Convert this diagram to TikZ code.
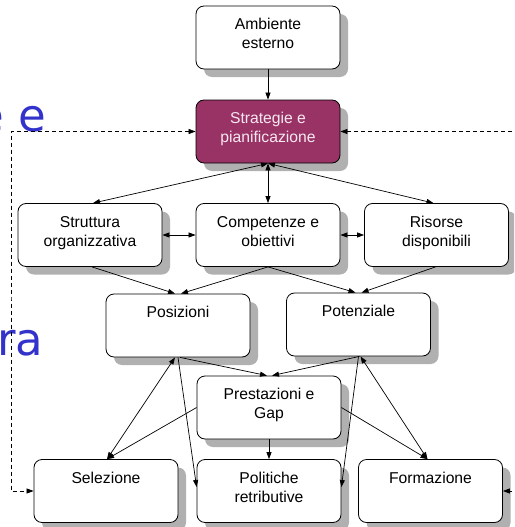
\documentclass[tikz,border=0pt]{standalone}
\usepackage{fontspec}
\setmainfont{Liberation Sans}
\newfontfamily\slidefont{DejaVu Sans}
\usetikzlibrary{arrows.meta,shadows}
\definecolor{plum}{RGB}{153,51,102}
\definecolor{plumtext}{RGB}{247,232,240}
\definecolor{slideblue}{RGB}{51,51,204}
\definecolor{shadowgray}{RGB}{176,176,176}
% box caption: first baseline fixed near the top of the box
\newcommand\boxlabel[1]{\parbox[t]{140pt}{\centering\fontsize{15.7}{19}\selectfont #1}}
\begin{document}
\begin{tikzpicture}[x=1pt,y=-1pt,
  >={Triangle[length=7pt,width=5pt]},
  box/.style={draw, line width=0.8pt, rounded corners=8pt, fill=white,
    minimum width=144pt, minimum height=63pt, inner sep=0pt,
    text height=23.5pt, text depth=39.5pt,
    drop shadow={shadow xshift=8pt, shadow yshift=-8pt, fill=shadowgray, opacity=1}},
  keybox/.style={box, fill=plum, text=plumtext},
  link/.style={line width=0.7pt, ->},
  twoway/.style={line width=0.7pt, <->},
  feedback/.style={line width=0.7pt, dash pattern=on 4pt off 3pt, ->},
  slidetext/.style={inner sep=0pt, anchor=base west, text=slideblue,
    font=\slidefont\fontsize{45}{54}\selectfont}
]
\useasboundingbox (0,0) rectangle (514,527);
\clip (0,0) rectangle (514,527);
\fill[white] (0,0) rectangle (514,527);

% fragments of slide text behind the chart
\node[slidetext] (frag1) at (-24,131) {e e};
\node[slidetext] (frag2) at (-3,355) {ra};

% boxes
\node[box]    (amb)   at (268,37.5)  {\boxlabel{Ambiente\\esterno}};
\node[keybox] (strat) at (268,131.5) {\boxlabel{Strategie e\\pianificazione}};
\node[box]    (strut) at (90,235)    {\boxlabel{Struttura\\organizzativa}};
\node[box]    (comp)  at (268,235)   {\boxlabel{Competenze e\\obiettivi}};
\node[box]    (ris)   at (436.5,235) {\boxlabel{Risorse\\disponibili}};
\node[box]    (pos)   at (178,325.5) {\boxlabel{Posizioni}};
\node[box]    (pot)   at (358.5,324.5) {\boxlabel{Potenziale}};
\node[box]    (prest) at (269,407.5) {\boxlabel{Prestazioni e\\Gap}};
\node[box]    (sel)   at (106,491)   {\boxlabel{Selezione}};
\node[box]    (pol)   at (269,491)   {\boxlabel{Politiche\\retributive}};
\node[box]    (form)  at (430.5,491) {\boxlabel{Formazione}};

% upper connectors
\draw[link]   (amb.south) -- (strat.north);
\draw[twoway] (strat.south) -- (comp.north);
\draw[twoway] (strat.south) -- ([xshift=3pt]strut.north);
\draw[twoway] (strat.south) -- ([xshift=-3pt]ris.north);
\draw[twoway] (strut.east) -- (comp.west);
\draw[twoway] (comp.east) -- (ris.west);
\draw[link]   ([xshift=2pt]strut.south) -- ([xshift=-3pt]pos.north);
\draw[link]   (comp.south) -- ([xshift=3pt]pos.north);
\draw[link]   (comp.south) -- ([xshift=-3pt]pot.north);
\draw[link]   ([xshift=-1pt]ris.south) -- ([xshift=3pt]pot.north);

% lower connectors
\draw[twoway] ([xshift=1pt]sel.north) -- ([xshift=-3pt]pos.south);
\draw[link]   (pos.south) -- ([yshift=4pt]pol.west);
\draw[link]   ([xshift=2pt]pos.south) -- ([xshift=-2pt]prest.north);
\draw[link]   ([xshift=1pt]pot.south) -- ([xshift=3pt]prest.north);
\draw[link]   (pot.south) -- ([yshift=4pt]pol.east);
\draw[twoway] ([xshift=-3pt]form.north) -- ([xshift=2pt]pot.south);
\draw[link]   (prest.west) -- ([xshift=1pt]sel.north);
\draw[link]   (prest.east) -- ([xshift=-3pt]form.north);
\draw[link]   (prest.south) -- (pol.north);

% dashed feedback loops
\coordinate (lloop) at (11,300);
\coordinate (rloop) at (530,300);
\draw[feedback, <->] (strat.west) -| (lloop) |- (sel.west);
\draw[feedback, <->] (strat.east) -| (rloop) |- (form.east);
\end{tikzpicture}
\end{document}
